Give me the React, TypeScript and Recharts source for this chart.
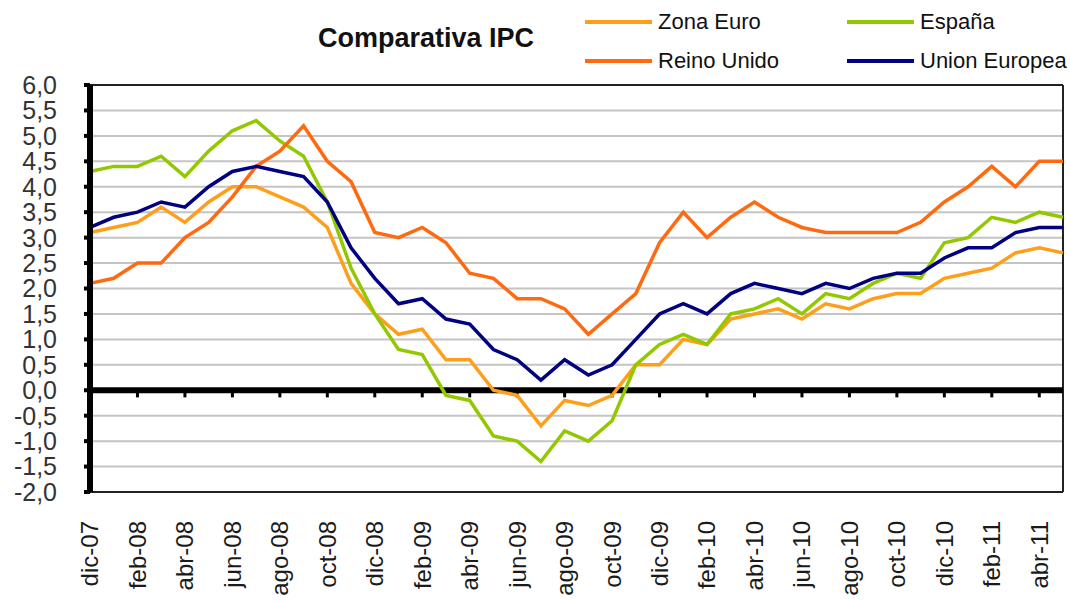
import React from "react";
import { LineChart, Line, XAxis, YAxis, CartesianGrid, ReferenceLine } from "recharts";

const months = [
  "dic-07", "ene-08", "feb-08", "mar-08", "abr-08", "may-08", "jun-08", "jul-08", "ago-08", "sep-08", "oct-08", "nov-08",
  "dic-08", "ene-09", "feb-09", "mar-09", "abr-09", "may-09", "jun-09", "jul-09", "ago-09", "sep-09", "oct-09", "nov-09",
  "dic-09", "ene-10", "feb-10", "mar-10", "abr-10", "may-10", "jun-10", "jul-10", "ago-10", "sep-10", "oct-10", "nov-10",
  "dic-10", "ene-11", "feb-11", "mar-11", "abr-11", "may-11",
];

const zonaEuro = [
  3.1, 3.2, 3.3, 3.6, 3.3, 3.7, 4.0, 4.0, 3.8, 3.6, 3.2, 2.1,
  1.5, 1.1, 1.2, 0.6, 0.6, 0.0, -0.1, -0.7, -0.2, -0.3, -0.1, 0.5,
  0.5, 1.0, 0.9, 1.4, 1.5, 1.6, 1.4, 1.7, 1.6, 1.8, 1.9, 1.9,
  2.2, 2.3, 2.4, 2.7, 2.8, 2.7,
];
const espana = [
  4.3, 4.4, 4.4, 4.6, 4.2, 4.7, 5.1, 5.3, 4.9, 4.6, 3.7, 2.4,
  1.5, 0.8, 0.7, -0.1, -0.2, -0.9, -1.0, -1.4, -0.8, -1.0, -0.6, 0.5,
  0.9, 1.1, 0.9, 1.5, 1.6, 1.8, 1.5, 1.9, 1.8, 2.1, 2.3, 2.2,
  2.9, 3.0, 3.4, 3.3, 3.5, 3.4,
];
const reinoUnido = [
  2.1, 2.2, 2.5, 2.5, 3.0, 3.3, 3.8, 4.4, 4.7, 5.2, 4.5, 4.1,
  3.1, 3.0, 3.2, 2.9, 2.3, 2.2, 1.8, 1.8, 1.6, 1.1, 1.5, 1.9,
  2.9, 3.5, 3.0, 3.4, 3.7, 3.4, 3.2, 3.1, 3.1, 3.1, 3.1, 3.3,
  3.7, 4.0, 4.4, 4.0, 4.5, 4.5,
];
const unionEuropea = [
  3.2, 3.4, 3.5, 3.7, 3.6, 4.0, 4.3, 4.4, 4.3, 4.2, 3.7, 2.8,
  2.2, 1.7, 1.8, 1.4, 1.3, 0.8, 0.6, 0.2, 0.6, 0.3, 0.5, 1.0,
  1.5, 1.7, 1.5, 1.9, 2.1, 2.0, 1.9, 2.1, 2.0, 2.2, 2.3, 2.3,
  2.6, 2.8, 2.8, 3.1, 3.2, 3.2,
];

const yTicks = [-2, -1.5, -1, -0.5, 0, 0.5, 1, 1.5, 2, 2.5, 3, 3.5, 4, 4.5, 5, 5.5, 6];

const series = [
  { key: "zonaEuro", name: "Zona Euro", color: "#FF9E1B" },
  { key: "espana", name: "España", color: "#92C800" },
  { key: "reinoUnido", name: "Reino Unido", color: "#FF6A10" },
  { key: "unionEuropea", name: "Union Europea", color: "#000080" },
];

const data = months.map((m, i) => ({
  month: m,
  zonaEuro: zonaEuro[i],
  espana: espana[i],
  reinoUnido: reinoUnido[i],
  unionEuropea: unionEuropea[i],
}));

const font = "'Liberation Sans', Arial, sans-serif";

const MonthTick = (props: any) => {
  const { x, y, payload } = props;
  return (
    <g transform={`translate(${x},${y})`}>
      <text transform="rotate(-90)" x={-21} y={0} dy="0.35em" textAnchor="end" fill="#1a1a1a" fontSize={24} fontFamily={font}>
        {payload.value}
      </text>
    </g>
  );
};

const fmt = (v: number) => v.toFixed(1).replace(".", ",");

const legendPos = [
  { left: 585, top: 22 },
  { left: 847, top: 22 },
  { left: 585, top: 61 },
  { left: 847, top: 61 },
];

export default function App() {
  return (
    <div style={{ position: "absolute", left: 0, top: 0, width: 1070, height: 601, background: "#fff", fontFamily: font }}>
      <div style={{ position: "absolute", left: 318, top: 23, fontSize: 27, fontWeight: "bold", color: "#111", whiteSpace: "nowrap" }}>
        Comparativa IPC
      </div>
      {series.map((s, i) => (
        <div key={s.key} style={{ position: "absolute", left: legendPos[i].left, top: legendPos[i].top - 13, height: 26, display: "flex", alignItems: "center", whiteSpace: "nowrap" }}>
          <div style={{ width: 67, height: 4, background: s.color, marginRight: 6 }} />
          <span style={{ fontSize: 22, color: "#111" }}>{s.name}</span>
        </div>
      ))}
      <div style={{ position: "absolute", left: 0, top: 0 }}>
        <LineChart width={1070} height={601} data={data} margin={{ top: 85, right: 7, bottom: 0, left: 30 }}>
          <CartesianGrid vertical={false} stroke="#C4C4C4" strokeWidth={2} />
          <XAxis
            dataKey="month"
            interval={1}
            height={109}
            tick={<MonthTick />}
            tickLine={false}
            axisLine={{ stroke: "#222", strokeWidth: 2 }}
          />
          <YAxis
            domain={[-2, 6]}
            ticks={yTicks}
            interval={0}
            width={60}
            tickFormatter={fmt}
            tickSize={6}
            tickMargin={27}
            tickLine={{ stroke: "#000", strokeWidth: 4 }}
            axisLine={{ stroke: "#000", strokeWidth: 6 }}
            tick={{ fill: "#333", fontSize: 25, fontFamily: font }}
          />
          <ReferenceLine y={6} stroke="#222" strokeWidth={2} />
          <ReferenceLine x={months[months.length - 1]} stroke="#222" strokeWidth={2} />
          {months.map((m, i) =>
            i % 2 === 0 && i > 0 ? (
              <ReferenceLine key={m} segment={[{ x: m, y: 0 }, { x: m, y: -0.14 }]} stroke="#000" strokeWidth={3} />
            ) : null
          )}
          <ReferenceLine y={0} stroke="#000" strokeWidth={6} />
          {series.map((s) => (
            <Line
              key={s.key}
              type="linear"
              dataKey={s.key}
              name={s.name}
              stroke={s.color}
              strokeWidth={3.5}
              dot={false}
              isAnimationActive={false}
            />
          ))}
        </LineChart>
      </div>
    </div>
  );
}
